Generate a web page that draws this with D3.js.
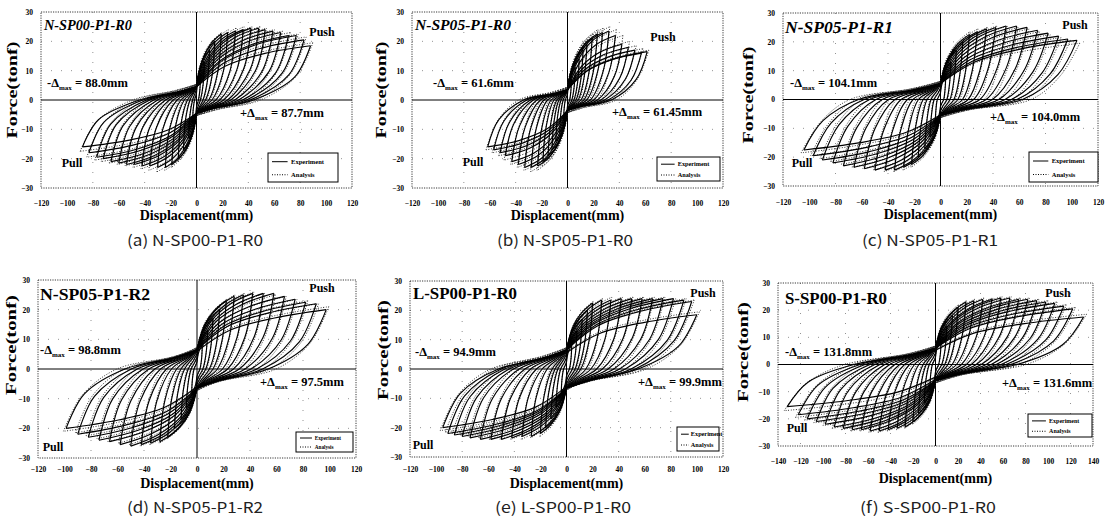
<!DOCTYPE html>
<html><head><meta charset="utf-8">
<script src="https://cdn.jsdelivr.net/npm/d3@7"></script>
<style>body{margin:0;background:#fff}svg{display:block}</style>
</head><body>
<svg id="c" width="1105" height="525"></svg>
<script>
// ---------- tick labels ----------
const xTicks120 = [-120,-100,-80,-60,-40,-20,0,20,40,60,80,100,120];
const xTicks140 = [-140,-120,-100,-80,-60,-40,-20,0,20,40,60,80,100,120,140];
const yTicks = [30,20,10,0,-10,-20,-30];
const titles = ["N-SP00-P1-R0","N-SP05-P1-R0","N-SP05-P1-R1","N-SP05-P1-R2","L-SP00-P1-R0","S-SP00-P1-R0"];
const captions = ["(a) N-SP00-P1-R0","(b) N-SP05-P1-R0","(c) N-SP05-P1-R1","(d) N-SP05-P1-R2","(e) L-SP00-P1-R0","(f) S-SP00-P1-R0"];
const negDeltaMax = ["88.0mm","61.6mm","104.1mm","98.8mm","94.9mm","131.8mm"];
const posDeltaMax = ["87.7mm","61.45mm","104.0mm","97.5mm","99.9mm","131.6mm"];
const legendLabels = ["Experiment","Analysis"];

// ---------- (a) N-SP00-P1-R0 : cycle peaks (mm, tonf) ----------
const aPosDisp = [3,6,10,14,19,24,30,36,42,48,53,59,65,71,77,83,88];
const aNegDisp = [-3,-6,-10,-14,-19,-24,-30,-36,-42,-48,-54,-60,-66,-72,-77,-83,-88];
const aExpPosForce = [8,13,17,20,22.5,23,23.5,24,24.5,24.5,24,23.5,23,22,22,20.5,18.5];
const aExpNegForce = [-8,-13,-17,-20,-22,-23,-23,-22.5,-22.5,-22,-22,-21.5,-21,-20,-19.5,-18,-16];
const aAnaPosForce = [9,14,18,21,23,24,24.5,25,25,25,24.5,24,23.5,23,22.5,21.5,19.5];
const aAnaNegForce = [-9,-14,-18,-21,-23,-24,-24.5,-24,-23.5,-23,-22.5,-22,-21.5,-21,-20.5,-19.5,-17.5];

// ---------- (b) N-SP05-P1-R0 ----------
const bPosDisp = [3,6,9,12,15,19,23,27,32,37,42,47,52,57,61.5];
const bNegDisp = [-3,-6,-9,-12,-15,-19,-23,-28,-33,-38,-43,-48,-52,-57,-61.6];
const bExpPosForce = [7,11,14,17,19,21,22.5,23,23.5,22,19,18,17,16,16.5];
const bExpNegForce = [-7,-11,-14,-17,-19,-21,-22.5,-23,-23,-22,-21,-19,-18,-17,-16];
const bAnaPosForce = [8,12,15,18,20.5,22.5,24,24.5,25,24,22,20,18.5,17.5,17];
const bAnaNegForce = [-8,-12,-15,-18,-20.5,-22.5,-24,-24.5,-24,-23,-22,-20.5,-19,-18,-17];

// ---------- (c) N-SP05-P1-R1 ----------
const cPosDisp = [4,8,12,17,22,28,35,42,50,58,66,74,82,90,97,104];
const cNegDisp = [-4,-8,-12,-17,-22,-28,-35,-42,-50,-58,-66,-74,-82,-90,-97,-104.1];
const cExpPosForce = [8,13,17,20,22.5,23.5,24.5,25,25.5,25.5,25,24,23,22,21,20.5];
const cExpNegForce = [-8,-13,-17,-20,-22.5,-23.5,-24.5,-24.5,-24.5,-24,-23.5,-23,-22,-21,-19.5,-17.5];
const cAnaPosForce = [9,14,18,21,23.5,24.5,25,25.5,25.5,25,24.5,23.5,22.5,21.5,20.5,19.5];
const cAnaNegForce = [-9,-14,-18,-21,-23.5,-24.5,-25,-25,-24.5,-24,-23.5,-22.5,-21.5,-20.5,-19.5,-18.5];

// ---------- (d) N-SP05-P1-R2 ----------
const dPosDisp = [4,8,12,17,22,28,35,42,50,58,66,74,82,90,97.5];
const dNegDisp = [-4,-8,-12,-17,-22,-28,-35,-42,-50,-58,-66,-74,-82,-90,-98.8];
const dExpPosForce = [8,13,17,20,23,24.5,25,25.5,25.5,25.5,24.5,23.5,22.5,22,20];
const dExpNegForce = [-8,-13,-17,-20,-23,-24.5,-25,-25.5,-26,-25.5,-24.5,-24,-23,-22,-20];
const dAnaPosForce = [9,14,18,21,23.5,25,25.5,26,25.5,25,24.5,23.5,23,22,21];
const dAnaNegForce = [-9,-14,-18,-21,-23.5,-25,-25.5,-26,-25.5,-25,-24.5,-23.5,-22.5,-21.5,-21];

// ---------- (e) L-SP00-P1-R0 ----------
const ePosDisp = [4,8,12,16,20,27,34,42,50,58,66,74,82,90,96,99.9];
const eNegDisp = [-4,-8,-12,-16,-20,-27,-34,-42,-50,-58,-66,-74,-80,-86,-91,-94.9];
const eExpPosForce = [8,13,17,20,22.5,23.5,23.5,24,24,24,24,24,24,23.5,23,18.5];
const eExpNegForce = [-8,-13,-17,-20,-22,-23,-23,-23.5,-24,-24,-24,-23.5,-23,-22.5,-22,-20];
const eAnaPosForce = [9,14,18,21,23,24,24.5,24.5,24.5,24.5,24.5,24.5,24,24,23.5,19.5];
const eAnaNegForce = [-9,-14,-18,-21,-23,-23.5,-24,-24,-24,-24,-23.5,-23,-22.5,-22,-21.5,-21];

// ---------- (f) S-SP00-P1-R0 ----------
const fPosDisp = [5,10,15,20,27,34,42,50,58,66,74,82,90,98,106,114,122,131.6];
const fNegDisp = [-5,-10,-15,-20,-27,-34,-42,-50,-58,-66,-74,-82,-90,-98,-106,-114,-122,-131.8];
const fExpPosForce = [9,14,18,21,23,23.5,24,24,24.5,24.5,24,24,23.5,23,22.5,21.5,20.5,17.5];
const fExpNegForce = [-9,-14,-18,-21,-23,-23.5,-24,-24.5,-24.5,-24,-24,-23.5,-23,-22,-21,-20,-18.5,-15.5];
const fAnaPosForce = [10,15,19,22,23.5,24,24.5,24.5,25,25,24.5,24.5,24,23.5,23,22,21,18.5];
const fAnaNegForce = [-10,-15,-19,-22,-23.5,-24,-24.5,-25,-25,-24.5,-24.5,-24,-23.5,-22.5,-21.5,-20.5,-19.5,-17];

// pinching force and residual-displacement ratio of each specimen
const pinchForce = [4.5,3.5,5.5,6.5,6.5,6];
const residualRatio = [0.5,0.55,0.6,0.55,0.55,0.55];

const dataSets = [
  {pd:aPosDisp,nd:aNegDisp,ep:aExpPosForce,en:aExpNegForce,ap:aAnaPosForce,an:aAnaNegForce},
  {pd:bPosDisp,nd:bNegDisp,ep:bExpPosForce,en:bExpNegForce,ap:bAnaPosForce,an:bAnaNegForce},
  {pd:cPosDisp,nd:cNegDisp,ep:cExpPosForce,en:cExpNegForce,ap:cAnaPosForce,an:cAnaNegForce},
  {pd:dPosDisp,nd:dNegDisp,ep:dExpPosForce,en:dExpNegForce,ap:dAnaPosForce,an:dAnaNegForce},
  {pd:ePosDisp,nd:eNegDisp,ep:eExpPosForce,en:eExpNegForce,ap:eAnaPosForce,an:eAnaNegForce},
  {pd:fPosDisp,nd:fNegDisp,ep:fExpPosForce,en:fExpNegForce,ap:fAnaPosForce,an:fAnaNegForce}
];

// ---------- layout ----------
const layout = [
 {x0:41,x1:352,y0:12,y1:188,xmax:120,italic:true,tSize:15,tLen:88,title:[44,30],push:[322,36],pull:[72,167],neg:[47,87],pos:[240,117],force:[12,90],flen:97,tickY:207,dispY:220,capY:246,capX:195,legend:[268,153,70,29]},
 {x0:412,x1:723,y0:12,y1:188,xmax:120,italic:true,tSize:15.5,tLen:96,title:[415,30],push:[663,41],pull:[473,166],neg:[433,87],pos:[612,116],force:[381,90],flen:97,tickY:207,dispY:220,capY:246,capX:565,legend:[657,157,63,24]},
 {x0:783,x1:1098,y0:13,y1:186,xmax:120,italic:true,tSize:17.5,tLen:108,title:[785,33],push:[1075,29],pull:[802,167],neg:[790,87],pos:[990,121],force:[748,95],flen:97,tickY:206,dispY:219,capY:246,capX:930,legend:[1029,152,69,30]},
 {x0:38,x1:356,y0:280,y1:458,xmax:120,italic:false,tSize:17.5,tLen:110,title:[40,300],push:[322,292],pull:[53,451],neg:[40,354],pos:[260,386],force:[11,345],flen:100,tickY:473,dispY:488,capY:513,capX:195,legend:[296,432,57,20]},
 {x0:410,x1:723,y0:281,y1:457,xmax:120,italic:false,tSize:17,tLen:104,title:[413,299],push:[703,297],pull:[423,449],neg:[415,356],pos:[638,386],force:[383,350],flen:100,tickY:473,dispY:488,capY:513,capX:563,legend:[677,427,42,24]},
 {x0:778,x1:1093,y0:283,y1:446,xmax:140,italic:false,tSize:17,tLen:102,title:[785,304],push:[1058,297],pull:[797,432],neg:[785,356],pos:[1002,387],force:[743,352],flen:100,tickY:465,dispY:483,capY:513,capX:928,legend:[1028,414,64,23]}
];

const svg = d3.select("#c");
const SERIF = "'Liberation Serif','Times New Roman',serif";

function branches(d1, f1, d2, f2, pin, r) {
  // one full cycle: positive excursion then negative excursion
  const pp = Math.min(pin, 0.3*Math.abs(f1));
  const pn = Math.min(pin, 0.3*Math.abs(f2));
  return [
    [[0,pp],[0.25*d1,0.5*f1+0.5*pp],[0.6*d1,0.86*f1],[d1,f1]],
    [[d1,f1],[0.86*d1,0.42*f1],[r*d1,0],[0.35*r*d1,-0.6*pn],[0,-pn]],
    [[0,-pn],[0.25*d2,0.5*f2-0.5*pn],[0.6*d2,0.86*f2],[d2,f2]],
    [[d2,f2],[0.86*d2,0.42*f2],[r*d2,0],[0.35*r*d2,0.6*pp],[0,pp]]
  ];
}

layout.forEach((p, i) => {
  const ds = dataSets[i];
  const g = svg.append("g");
  const x = d3.scaleLinear().domain([-p.xmax, p.xmax]).range([p.x0, p.x1]);
  const y = d3.scaleLinear().domain([-30, 30]).range([p.y1, p.y0]);
  const xt = p.xmax === 140 ? xTicks140 : xTicks120;

  // dotted grid
  g.selectAll(".hg").data(yTicks.filter(v => v !== 0 && Math.abs(v) !== 30)).join("line")
    .attr("x1", p.x0).attr("x2", p.x1).attr("y1", d => y(d)).attr("y2", d => y(d))
    .attr("stroke", "#777").attr("stroke-width", 0.8).attr("stroke-dasharray", "1,9");
  g.selectAll(".vg").data(xt.filter(v => v !== 0 && Math.abs(v) !== p.xmax && v % 40 === 0)).join("line")
    .attr("x1", d => x(d)).attr("x2", d => x(d)).attr("y1", p.y0).attr("y2", p.y1)
    .attr("stroke", "#777").attr("stroke-width", 0.8).attr("stroke-dasharray", "1,9");

  // dotted frame
  g.append("rect").attr("x", p.x0).attr("y", p.y0).attr("width", p.x1 - p.x0).attr("height", p.y1 - p.y0)
    .attr("fill", "none").attr("stroke", "#222").attr("stroke-width", 0.9).attr("stroke-dasharray", "1.2,1.2");

  // zero axes
  g.append("line").attr("x1", p.x0).attr("x2", p.x1).attr("y1", y(0)).attr("y2", y(0)).attr("stroke", "#000").attr("stroke-width", 1);
  g.append("line").attr("x1", x(0)).attr("x2", x(0)).attr("y1", p.y0).attr("y2", p.y1).attr("stroke", "#000").attr("stroke-width", 1);

  // clip
  const cid = "clip" + i;
  svg.append("clipPath").attr("id", cid).append("rect")
    .attr("x", p.x0).attr("y", p.y0).attr("width", p.x1 - p.x0).attr("height", p.y1 - p.y0);
  const lg = g.append("g").attr("clip-path", `url(#${cid})`);
  const line = d3.line().x(d => x(d[0])).y(d => y(d[1])).curve(d3.curveCatmullRom.alpha(0.5));

  // analysis (dotted)
  ds.pd.forEach((dp, k) => {
    branches(dp * 1.02, ds.ap[k], ds.nd[k] * 1.02, ds.an[k], pinchForce[i] + 0.8, residualRatio[i] + 0.05).forEach(b => {
      lg.append("path").attr("d", line(b)).attr("fill", "none").attr("stroke", "#333")
        .attr("stroke-width", 1).attr("stroke-dasharray", "1,1.6");
    });
  });
  // experiment (solid)
  ds.pd.forEach((dp, k) => {
    branches(dp, ds.ep[k], ds.nd[k], ds.en[k], pinchForce[i], residualRatio[i]).forEach(b => {
      lg.append("path").attr("d", line(b)).attr("fill", "none").attr("stroke", "#000")
        .attr("stroke-width", 1.15);
    });
  });

  // axes with tick labels
  const ax = g.append("g").attr("transform", `translate(0,${p.tickY - 6})`)
    .call(d3.axisBottom(x).tickValues(xt).tickSize(0).tickPadding(0).tickFormat(d3.format("d")));
  ax.select(".domain").remove();
  ax.selectAll("text").attr("font-family", SERIF).attr("font-weight", "bold").attr("font-size", 7.5).attr("fill", "#000");
  const ay = g.append("g").attr("transform", `translate(${p.x0 - 8},0)`)
    .call(d3.axisLeft(y).tickValues(yTicks).tickSize(0).tickPadding(0).tickFormat(d3.format("d")));
  ay.select(".domain").remove();
  ay.selectAll("text").attr("font-family", SERIF).attr("font-weight", "bold").attr("font-size", 7.5).attr("fill", "#000");

  const txt = (xx, yy, s, size, anchor) => g.append("text").attr("x", xx).attr("y", yy).text(s)
    .attr("font-family", SERIF).attr("font-weight", "bold").attr("font-size", size)
    .attr("text-anchor", anchor || "start").attr("fill", "#000");

  // title
  txt(p.title[0], p.title[1], titles[i], p.tSize).attr("font-style", p.italic ? "italic" : "normal")
    .attr("textLength", p.tLen).attr("lengthAdjust", "spacingAndGlyphs");
  txt(p.push[0], p.push[1], "Push", 12, "middle");
  txt(p.pull[0], p.pull[1], "Pull", 12, "middle");

  // delta annotations
  [[p.neg, "-Δ", negDeltaMax[i]], [p.pos, "+Δ", posDeltaMax[i]]].forEach(([pos, pre, val]) => {
    const t = txt(pos[0], pos[1], null, 12.5);
    t.append("tspan").text(pre);
    t.append("tspan").text("max").attr("font-size", 7).attr("dy", 3);
    t.append("tspan").text(" = " + val).attr("dy", -3);
  });

  // axis titles
  txt(0, 0, "Force(tonf)", 14, "middle").attr("transform", `translate(${p.force[0] + 5},${p.force[1]}) rotate(-90)`)
    .attr("textLength", p.flen).attr("lengthAdjust", "spacingAndGlyphs");
  txt((p.x0 + p.x1) / 2, p.dispY, "Displacement(mm)", 14, "middle");

  // legend
  const [lx, ly, lw, lh] = p.legend;
  g.append("rect").attr("x", lx).attr("y", ly).attr("width", lw).attr("height", lh)
    .attr("fill", "#fff").attr("stroke", "#000").attr("stroke-width", 1);
  legendLabels.forEach((lab, k) => {
    const yy = ly + lh * (k === 0 ? 0.3 : 0.75);
    g.append("line").attr("x1", lx + 4).attr("x2", lx + lw * 0.28).attr("y1", yy).attr("y2", yy)
      .attr("stroke", "#000").attr("stroke-width", 1).attr("stroke-dasharray", k === 0 ? null : "1,1.5");
    txt(lx + lw * 0.33, yy + 2, lab, Math.min(6.5, lh * 0.26));
  });

  // caption
  g.append("text").attr("x", p.capX).attr("y", p.capY).text(captions[i])
    .attr("font-family", "'Noto Sans CJK KR','DejaVu Sans',sans-serif").attr("font-size", 15)
    .attr("text-anchor", "middle").attr("fill", "#222").attr("textLength", 136).attr("lengthAdjust", "spacingAndGlyphs");
});
</script>
</body></html>
